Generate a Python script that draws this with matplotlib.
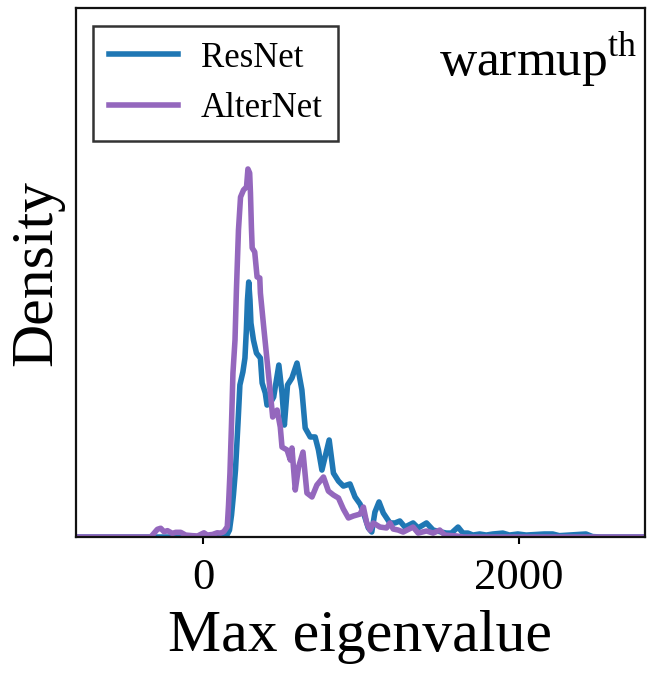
import matplotlib
matplotlib.use("Agg")
import matplotlib.pyplot as plt
import numpy as np

# Density curves of the max Hessian eigenvalue (density in units of 1e-4)
resnet_x = [
    -810, 140, 147, 166, 179, 191, 204, 220, 232, 251, 264, 273, 280, 288,
    296, 302, 318, 337, 362, 373, 393, 404, 425, 446, 479, 499, 514, 534,
    562, 594, 625, 646, 678, 709, 730, 752, 798, 825, 857, 888, 930, 962,
    994, 1014, 1046, 1068, 1088, 1114, 1141, 1183, 1215, 1246, 1278, 1330,
    1362, 1415, 1457, 1510, 1541, 1573, 1615, 1646, 1678, 1709, 1752, 1794,
    1836, 1899, 1941, 1994, 2047, 2162, 2215, 2257, 2426, 2467, 2520, 2800,
]
resnet_density = [
    0.0, 0.0, 0.07, 0.46, 1.46, 2.78, 4.43, 7.54, 10.06, 10.92, 11.84, 13.70,
    15.68, 16.87, 15.68, 14.16, 13.03, 12.17, 11.84, 10.19, 9.53, 8.73, 8.87,
    9.26, 11.38, 9.53, 7.41, 10.06, 10.52, 11.51, 9.73, 7.21, 6.62, 6.62,
    5.76, 4.43, 6.42, 4.23, 3.70, 3.37, 3.51, 2.65, 2.18, 1.65, 0.60, 0.33,
    1.65, 2.32, 1.59, 0.93, 0.93, 1.06, 0.66, 0.93, 0.60, 0.93, 0.46, 0.33,
    0.26, 0.26, 0.66, 0.26, 0.26, 0.13, 0.20, 0.13, 0.20, 0.26, 0.13, 0.20,
    0.13, 0.20, 0.20, 0.09, 0.20, 0.03, 0.0, 0.0,
]

alternet_x = [
    -810, -333, -291, -270, -249, -227, -196, -175, -143, -112, -70, -36, 4,
    25, 59, 88, 109, 130, 152, 160, 169, 179, 188, 201, 210, 223, 236, 255,
    274, 283, 294, 299, 305, 310, 326, 341, 358, 362, 383, 404, 425, 440,
    468, 488, 499, 531, 552, 562, 583, 604, 632, 657, 689, 720, 762, 793,
    825, 857, 888, 920, 951, 994, 1015, 1036, 1057, 1078, 1120, 1162, 1183,
    1204, 1236, 1267, 1330, 1362, 1415, 1457, 1499, 1531, 1605, 1650, 2800,
]
alternet_density = [
    0.0, 0.0, 0.51, 0.58, 0.35, 0.42, 0.24, 0.31, 0.31, 0.13, 0.09, 0.07,
    0.28, 0.13, 0.17, 0.28, 0.26, 0.35, 0.68, 2.12, 4.23, 7.54, 10.85, 13.03,
    16.34, 20.31, 22.49, 22.96, 23.16, 24.35, 24.08, 22.76, 20.51, 19.12,
    18.86, 17.20, 17.14, 16.14, 13.89, 11.71, 9.53, 7.94, 8.40, 7.28, 5.95,
    5.76, 5.09, 5.89, 3.11, 4.63, 5.62, 2.91, 2.65, 3.44, 3.97, 3.04, 2.78,
    2.58, 1.85, 1.26, 1.39, 1.52, 1.98, 0.93, 0.46, 0.93, 0.66, 0.60, 0.93,
    0.53, 0.46, 0.33, 0.66, 0.26, 0.40, 0.26, 0.46, 0.13, 0.07, 0.0, 0.0,
]

x_ticks = [0, 2000]
x_limits = (-810, 2800)
y_limits = (0, 0.0035)

plt.rcParams["font.family"] = "serif"
plt.rcParams["font.serif"] = ["Liberation Serif", "DejaVu Serif"]
plt.rcParams["mathtext.fontset"] = "custom"
plt.rcParams["mathtext.rm"] = "Liberation Serif"

fig = plt.figure(figsize=(6.55, 6.79), dpi=100)
ax = fig.add_axes([0.1153, 0.2091, 0.9847 - 0.1153, 0.9882 - 0.2091])

ax.plot(resnet_x, np.array(resnet_density) * 1e-4, color="#1f77b4", lw=4.0,
        label="ResNet")
ax.plot(alternet_x, np.array(alternet_density) * 1e-4, color="#9467bd", lw=4.0,
        label="AlterNet")

ax.set_xlim(*x_limits)
ax.set_ylim(*y_limits)
ax.set_xticks(x_ticks)
ax.set_yticks([])
ax.tick_params(axis="x", direction="out", length=5, width=1.5, labelsize=32,
               pad=10)
for s in ax.spines.values():
    s.set_linewidth(1.6)
    s.set_color("#111111")

ax.set_xlabel("Max eigenvalue", fontsize=43, labelpad=9)
ax.set_ylabel("Density", fontsize=43, labelpad=8)

ax.text(0.986, 0.96, r"warmup$^{\mathrm{th}}$", transform=ax.transAxes,
        ha="right", va="top", fontsize=37)

leg = ax.legend(loc="upper left", bbox_to_anchor=(0.031, 0.966),
                borderaxespad=0, fontsize=25, handlelength=2.0,
                handletextpad=0.65, labelspacing=0.5, borderpad=0.45,
                fancybox=False, framealpha=1)
leg.get_frame().set_edgecolor("#333333")
leg.get_frame().set_linewidth(1.8)

fig.savefig("out.png", dpi=100)
